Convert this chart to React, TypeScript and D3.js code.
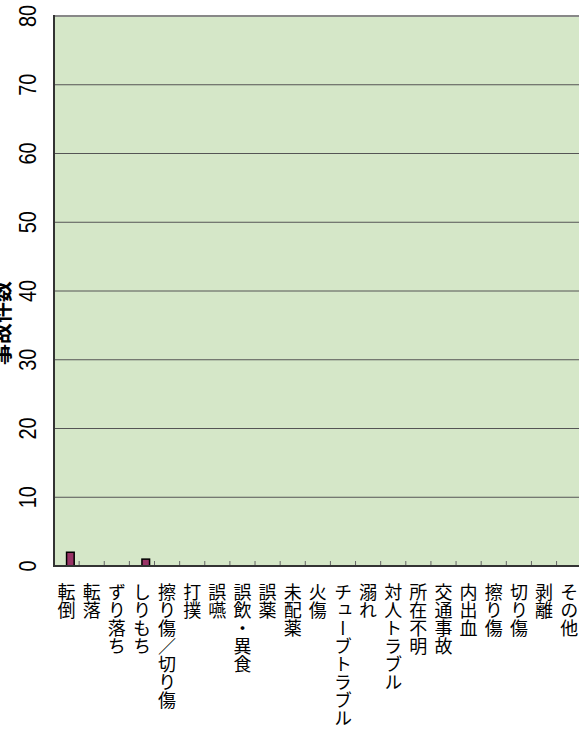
import React from "react";
import * as d3 from "d3";

const categories = [
  "転倒", "転落", "ずり落ち", "しりもち", "擦り傷／切り傷", "打撲", "誤嚥",
  "誤飲・異食", "誤薬", "未配薬", "火傷", "チューブトラブル", "溺れ",
  "対人トラブル", "所在不明", "交通事故", "内出血", "擦り傷", "切り傷", "剥離", "その他",
];
const seriesNames = ["series1", "series2"];
const series1 = [0, 0, 0, 0, 0, 0, 0, 0, 0, 0, 0, 0, 0, 0, 0, 0, 0, 0, 0, 0, 0];
const series2 = [2, 0, 0, 1, 0, 0, 0, 0, 0, 0, 0, 0, 0, 0, 0, 0, 0, 0, 0, 0, 0];
const yTicks = [0, 10, 20, 30, 40, 50, 60, 70, 80];
const yTitle = "事故件数";

const W = 579, H = 731;
const left = 54, right = 581.7, top = 16, bottom = 566;

export default function App() {
  const x = d3.scaleBand<string>().domain(categories).range([left, right]).padding(0);
  const bw = x.bandwidth();
  const groupW = bw / 1.65;
  const xs = d3.scaleBand<string>().domain(seriesNames)
    .range([(bw - groupW) / 2, (bw + groupW) / 2]).padding(0);
  const y = d3.scaleLinear().domain([0, 80]).range([bottom, top]);
  const data = [series1, series2];
  const boundaries = d3.range(1, categories.length + 1).map(i => left + i * bw);

  return (
    <svg width={W} height={H} style={{ position: "absolute", left: 0, top: 0, display: "block" }}
      fontFamily="'Liberation Sans', Arial, sans-serif">
      <rect x={left} y={top} width={right - left} height={bottom - top} fill="#d5e7c8" />
      {yTicks.filter(t => t > 0 && t < 80).map(t => (
        <line key={t} x1={left} x2={right} y1={y(t)} y2={y(t)} stroke="#555" strokeWidth={1} />
      ))}
      <line x1={left} x2={right} y1={y(80)} y2={y(80)} stroke="#888" strokeWidth={2} />
      {boundaries.map((bx, i) => (
        <line key={i} x1={bx} x2={bx} y1={bottom} y2={bottom - 5} stroke="#666" strokeWidth={1} />
      ))}
      {data.map((vals, si) => vals.map((v, ci) => v > 0 ? (
        <rect key={`${si}-${ci}`} x={(x(categories[ci]) as number) + (xs(seriesNames[si]) as number)}
          y={y(v)} width={xs.bandwidth()} height={y(0) - y(v)}
          fill="#993366" stroke="#000" strokeWidth={1.5} />
      ) : null))}
      <line x1={left} x2={left} y1={top - 1} y2={bottom + 1} stroke="#333" strokeWidth={2} />
      <line x1={left - 1} x2={right} y1={bottom} y2={bottom} stroke="#333" strokeWidth={2} />
      {yTicks.map(t => (
        <text key={t} transform={`translate(36,${y(t)}) rotate(-90) scale(1,1.15)`} textAnchor="middle"
          fontSize={20} fill="#000">{t}</text>
      ))}
      <text transform={`translate(9,323) rotate(-90)`} textAnchor="middle" fontSize={21}
        fontWeight="bold" fontFamily="'Noto Sans CJK JP', sans-serif" fill="#000">{yTitle}</text>
      {categories.map(c => (
        <text key={c} x={(x(c) as number) + bw / 2} y={583} style={{ writingMode: "vertical-rl" }}
          fontSize={18} fontFamily="'Noto Sans CJK JP', sans-serif" fill="#000">{c}</text>
      ))}
    </svg>
  );
}
